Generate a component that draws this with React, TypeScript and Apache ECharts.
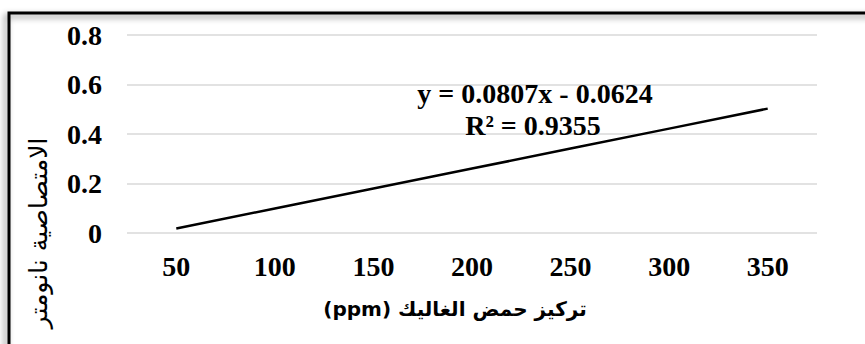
import React, { useEffect, useRef } from "react";
import * as echarts from "echarts";

const categories = ["50", "100", "150", "200", "250", "300", "350"];
const trendValues = [0.0183, 0.099, 0.1797, 0.2604, 0.3411, 0.4218, 0.5025];
const equationLines = ["y = 0.0807x - 0.0624", "R² = 0.9355"];
const xTitle = "\u202Bتركيز حمض الغاليك (ppm)\u202C";
const yTitle = "الامتصاصية نانومتر";

export default function App() {
  const ref = useRef<HTMLDivElement>(null);
  useEffect(() => {
    if (!ref.current) return;
    const chart = echarts.init(ref.current, null, { renderer: "svg" });
    const serif = "'Liberation Serif', 'Times New Roman', serif";
    chart.setOption({
      animation: false,
      backgroundColor: "#ffffff",
      grid: { left: 127, right: 48, top: 35, bottom: 111, containLabel: false },
      xAxis: {
        type: "category",
        data: categories,
        boundaryGap: true,
        axisLine: { show: false },
        axisTick: { show: false },
        axisLabel: { color: "#000", fontFamily: serif, fontWeight: "bold", fontSize: 28, margin: 19 },
      },
      yAxis: {
        type: "value",
        min: 0,
        max: 0.8,
        interval: 0.2,
        axisLine: { show: false },
        axisTick: { show: false },
        splitLine: { lineStyle: { color: "#d9d9d9", width: 1.5 } },
        axisLabel: { color: "#000", fontFamily: serif, fontWeight: "bold", fontSize: 28, margin: 25 },
      },
      series: [
        {
          type: "line",
          data: trendValues,
          symbol: "none",
          lineStyle: { color: "#000", width: 2.5 },
        },
      ],
      graphic: [
        {
          type: "rect",
          shape: { x: 9, y: 13, width: 1000, height: 500 },
          style: { fill: "none", stroke: "#000", lineWidth: 3, shadowBlur: 6, shadowColor: "rgba(0,0,0,0.45)", shadowOffsetX: -3, shadowOffsetY: 3 },
          z: 10,
        },
        {
          type: "text",
          x: 535,
          y: 93,
          style: { text: equationLines[0], fill: "#000", font: "bold 28px 'Liberation Serif', serif", align: "center", verticalAlign: "middle" },
          z: 20,
        },
        {
          type: "text",
          x: 533,
          y: 125,
          style: { text: equationLines[1], fill: "#000", font: "bold 28px 'Liberation Serif', serif", align: "center", verticalAlign: "middle" },
          z: 20,
        },
        {
          type: "text",
          x: 455,
          y: 309,
          style: { text: xTitle, fill: "#000", font: "bold 20px 'DejaVu Sans', Arial, sans-serif", align: "center", verticalAlign: "middle" },
          z: 20,
        },
        {
          type: "text",
          x: 38,
          y: 233,
          rotation: Math.PI / 2,
          style: { text: yTitle, fill: "#000", font: "25px 'DejaVu Sans', Arial, sans-serif", align: "center", verticalAlign: "middle" },
          z: 20,
        },
      ],
    });
    return () => chart.dispose();
  }, []);
  return <div ref={ref} style={{ position: "fixed", left: 0, top: 0, width: 865, height: 344 }} />;
}
